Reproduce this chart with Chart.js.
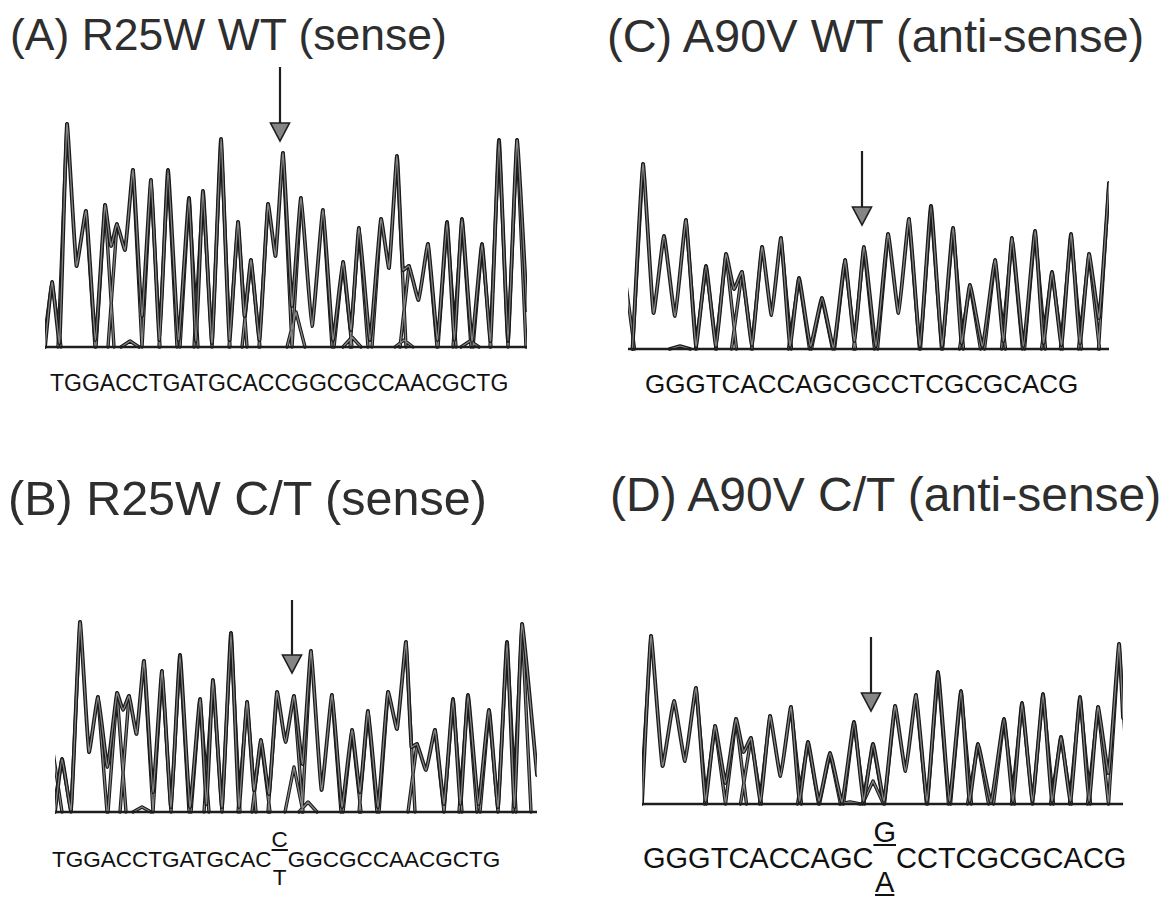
<!DOCTYPE html>
<html>
<head>
<meta charset="utf-8">
<title>Sequencing chromatograms</title>
<script src="https://cdn.jsdelivr.net/npm/chart.js@4.4.0/dist/chart.umd.min.js"></script>
<style>
body { margin: 0; background: #fff; }
#page { position: relative; width: 1176px; height: 904px; overflow: hidden;
        font-family: Arial, "Liberation Sans", sans-serif; }
.title { position: absolute; white-space: nowrap; color: #2e2e2e; line-height: 1; }
.seq { position: absolute; white-space: nowrap; color: #111; line-height: 1; }
.het { display: inline-block; position: relative; height: 1em; vertical-align: top; }
.het span { position: absolute; left: 0; width: 100%; text-align: center; line-height: 1;
            text-decoration-thickness: 1.5px; text-underline-offset: 2px; }
.het .up { top: -0.9em; text-decoration: underline; }
.het .down { top: 0.82em; }
.het .down.ul { text-decoration: underline; }
canvas { position: absolute; }
</style>
</head>
<body>
<div id="page">
  <div class="title" style="left:10px;top:13px;font-size:44.5px">(A) R25W WT (sense)</div>
  <div class="title" style="left:607px;top:12px;font-size:47px">(C) A90V WT (anti-sense)</div>
  <div class="title" style="left:8px;top:474px;font-size:48.5px">(B) R25W C/T (sense)</div>
  <div class="title" style="left:610px;top:471px;font-size:48px">(D) A90V C/T (anti-sense)</div>

  <canvas id="chartA" width="482" height="292" style="left:45px;top:60px"></canvas>
  <canvas id="chartB" width="482" height="225" style="left:55px;top:592px"></canvas>
  <canvas id="chartC" width="481" height="209" style="left:628px;top:145px"></canvas>
  <canvas id="chartD" width="481" height="179" style="left:642px;top:630px"></canvas>

  <div class="seq" id="seqA" style="left:50px;top:372px;font-size:23px"></div>
  <div class="seq" id="seqC" style="left:645px;top:371px;font-size:26px"></div>
  <div class="seq" id="seqB" style="left:52px;top:849px;font-size:22.5px"></div>
  <div class="seq" id="seqD" style="left:643px;top:844px;font-size:29px"></div>
</div>

<script>
// called bases under each trace
var seqA = "TGGACCTGATGCACCGGCGCCAACGCTG";
var seqB5 = "TGGACCTGATGCAC", hetB = ["C", "T"], seqB3 = "GGCGCCAACGCTG";
var seqC = "GGGTCACCAGCGCCTCGCGCACG";
var seqD5 = "GGGTCACCAGC", hetD = ["G", "A"], seqD3 = "CCTCGCGCACG";

// (A) R25W WT sense: peak positions / heights, valleys (start, between peaks, end)
var aPeakX = [52,67,86,105,117,133,151,168,189,203,221,238,251,268,283,301,323,343,359,381,397,409,428,447,462,482,499,517];
var aPeakH = [65,223,136,142,123,177,167,177,149,156,208,125,87,143,194,149,137,85,119,128,191,81,103,125,128,103,207,207];
var aValley = [0, 4,81,7,101,97,31,7,7,6,4,7,31,7,91,41,21,7,17,7,79,77,47,7,7,6,6,6, 37];
var aMinorX = [130,296,352,404,470];
var aMinorH = [6,35,10,7,6];
var aArrow = [280, 280, 206]; // x, shaft top, tip

// (B) R25W C/T sense
var bPeakX = [62,80,98,117,129,144,162,180,200,213,231,247,261,277,294,311,332,352,368,388,406,417,435,453,468,489,507,522];
var bPeakH = [53,190,115,119,116,151,141,157,113,132,179,110,72,120,116,161,117,82,101,120,170,68,82,113,117,102,170,188];
var bValley = [0, 2,60,45,102,78,20,5,5,8,5,5,22,18,70,48,22,5,20,5,83,65,42,8,8,8,5,5, 37];
var bMinorX = [53,142,294,308];
var bMinorH = [60,5,45,10];
var bArrow = [292, 212, 139];

// (C) A90V WT anti-sense
var cPeakX = [643,664,686,706,726,742,762,781,799,822,845,864,888,909,931,953,970,995,1012,1035,1052,1071,1089,1109];
var cPeakH = [185,113,129,83,95,77,102,111,71,51,89,102,115,130,143,121,64,89,111,118,77,115,95,166];
var cValley = [0, 36,33,3,3,60,4,34,3,3,1,8,3,36,3,3,6,3,8,3,6,4,6,31, 166];
var cMinorX = [624,680];
var cMinorH = [80,3];
var cArrow = [862, 198, 124];

// (D) A90V C/T anti-sense
var dPeakX = [651,674,696,715,736,751,770,791,808,830,854,873,895,916,938,961,978,1004,1022,1043,1061,1080,1098,1119];
var dPeakH = [168,103,116,78,85,66,88,97,62,51,82,60,98,109,132,113,60,85,101,110,67,107,97,160];
var dValley = [0, 38,43,3,21,52,3,28,3,3,2,3,3,33,3,3,3,2,3,3,3,3,3,31, 86];
var dMinorX = [850,873];
var dMinorH = [2,23];
var dArrow = [871, 167, 93];

// sequence text under the panels
function hetSlot(pair, widthEm, ulDown) {
  return '<span class="het" style="width:' + widthEm + 'em"><span class="up">' + pair[0] +
    '</span><span class="down' + (ulDown ? ' ul' : '') + '">' + pair[1] + '</span></span>';
}
document.getElementById("seqA").textContent = seqA;
document.getElementById("seqC").textContent = seqC;
document.getElementById("seqB").innerHTML = seqB5 + hetSlot(hetB, 0.72, false) + seqB3;
document.getElementById("seqD").innerHTML = seqD5 + hetSlot(hetD, 0.78, true) + seqD3;

// outline of the trace: start, peak, valley, peak ... end
function envelope(px, ph, val, x0, x1, w) {
  var pts = [{x: Math.max(x0, px[0] - w), y: val[0]}];
  for (var i = 0; i < px.length; i++) {
    pts.push({x: px[i], y: ph[i]});
    if (i < px.length - 1) pts.push({x: (px[i] + px[i+1]) / 2, y: val[i+1]});
  }
  if (x1 > px[px.length-1]) pts.push({x: x1, y: val[val.length-1]});
  return pts;
}

// single peaks running down to the baseline where the next call is another base
function flanks(px, ph, bases, mx, mh, w) {
  var pts = [];
  for (var i = 0; i < px.length; i++) {
    if (i == 0 || bases[i-1] != bases[i]) pts.push({x: px[i] - w, y: 0});
    pts.push({x: px[i], y: ph[i]});
    if (i == px.length - 1 || bases[i+1] != bases[i]) pts.push({x: px[i] + w, y: 0});
    pts.push({x: px[i], y: null});
  }
  for (var j = 0; j < mx.length; j++) {
    pts.push({x: mx[j] - w, y: 0}, {x: mx[j], y: mh[j]}, {x: mx[j] + w, y: 0}, {x: mx[j], y: null});
  }
  return pts;
}

var baselineArrow = {
  id: 'baselineArrow',
  afterDatasetsDraw: function(chart) {
    var ctx = chart.ctx, xs = chart.scales.x, ys = chart.scales.y;
    var a = chart.options.plugins.baselineArrow.arrow;
    var y0 = ys.getPixelForValue(0);
    ctx.save();
    ctx.strokeStyle = '#1e1e1e';
    ctx.lineWidth = 2.6;
    ctx.beginPath();
    ctx.moveTo(chart.chartArea.left, y0);
    ctx.lineTo(chart.chartArea.right, y0);
    ctx.stroke();

    var ax = xs.getPixelForValue(a[0]);
    var top = ys.getPixelForValue(a[1]);
    var tip = ys.getPixelForValue(a[2]);
    var headTop = tip - 18;
    ctx.lineWidth = 2.2;
    ctx.beginPath();
    ctx.moveTo(ax, top);
    ctx.lineTo(ax, headTop);
    ctx.stroke();
    ctx.beginPath();
    ctx.moveTo(ax - 9.5, headTop);
    ctx.lineTo(ax + 9.5, headTop);
    ctx.lineTo(ax, tip);
    ctx.closePath();
    ctx.fillStyle = '#858585';
    ctx.fill();
    ctx.lineWidth = 1.6;
    ctx.stroke();
    ctx.restore();
  }
};

function makeChart(id, cfg) {
  var env = envelope(cfg.px, cfg.ph, cfg.val, cfg.x0, cfg.x1, cfg.w);
  var fl = flanks(cfg.px, cfg.ph, cfg.bases, cfg.mx, cfg.mh, cfg.w);
  var line = function(data, color, width, order, tension) {
    return {data: data, borderColor: color, borderWidth: width, fill: false,
            pointRadius: 0, tension: tension, spanGaps: false, clip: 0, order: order,
            borderJoinStyle: 'round', borderCapStyle: 'round'};
  };
  new Chart(document.getElementById(id), {
    type: 'line',
    data: {
      datasets: [
        line(env, '#858585', 1.3, 1, 0.12),
        line(env, '#1a1a1a', 3.8, 2, 0.12),
        line(fl, '#858585', 1.3, 3, 0),
        line(fl, '#1a1a1a', 3.4, 4, 0)
      ]
    },
    options: {
      responsive: false,
      animation: false,
      devicePixelRatio: 1,
      events: [],
      layout: {padding: 0},
      plugins: {
        legend: {display: false},
        tooltip: {enabled: false},
        baselineArrow: {arrow: cfg.arrow}
      },
      scales: {
        x: {type: 'linear', display: false, min: cfg.x0, max: cfg.x1},
        y: {display: false, min: -5, max: cfg.ymax}
      }
    },
    plugins: [baselineArrow]
  });
}

makeChart('chartA', {px: aPeakX, ph: aPeakH, val: aValley, bases: seqA,
  mx: aMinorX, mh: aMinorH, arrow: aArrow, x0: 45, x1: 527, ymax: 287, w: 9});
makeChart('chartB', {px: bPeakX, ph: bPeakH, val: bValley, bases: seqB5 + hetB[0] + seqB3,
  mx: bMinorX, mh: bMinorH, arrow: bArrow, x0: 55, x1: 537, ymax: 220, w: 9});
makeChart('chartC', {px: cPeakX, ph: cPeakH, val: cValley, bases: seqC + "N",
  mx: cMinorX, mh: cMinorH, arrow: cArrow, x0: 628, x1: 1109, ymax: 204, w: 10.5});
makeChart('chartD', {px: dPeakX, ph: dPeakH, val: dValley, bases: seqD5 + hetD[0] + seqD3 + "N",
  mx: dMinorX, mh: dMinorH, arrow: dArrow, x0: 642, x1: 1123, ymax: 174, w: 10.5});
</script>
</body>
</html>
